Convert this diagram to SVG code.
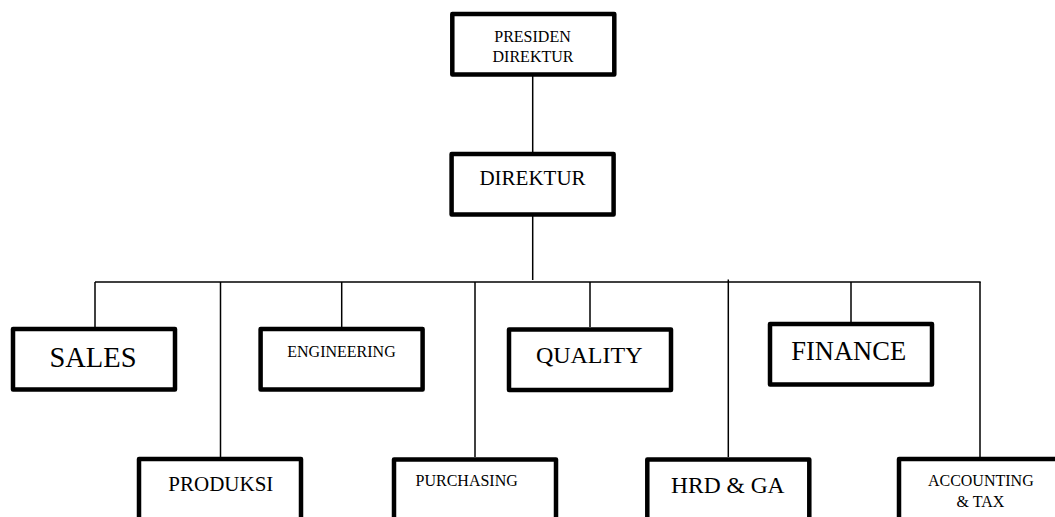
<svg xmlns="http://www.w3.org/2000/svg" width="1055" height="517" viewBox="0 0 1055 517">
<style>
.box{fill:#fff;stroke:#000;stroke-width:4.5;stroke-linejoin:round}
.con{stroke:#000;stroke-width:1.5;fill:none}
text{font-family:"Liberation Serif","Times New Roman",serif;fill:#000;text-anchor:middle}
</style>
<rect width="1055" height="517" fill="#fff"/>
<g id="connectors">
<line class="con" x1="532.7" y1="76" x2="532.7" y2="152"/>
<line class="con" x1="532.7" y1="216" x2="532.7" y2="280"/>
<line class="con" x1="95" y1="282" x2="980.7" y2="282"/>
<line class="con" x1="95" y1="282" x2="95" y2="327"/>
<line class="con" x1="220.5" y1="282" x2="220.5" y2="457"/>
<line class="con" x1="341.7" y1="282" x2="341.7" y2="327"/>
<line class="con" x1="475" y1="282" x2="475" y2="457"/>
<line class="con" x1="590" y1="282" x2="590" y2="327"/>
<line class="con" x1="728.3" y1="279.5" x2="728.3" y2="457"/>
<line class="con" x1="851" y1="282" x2="851" y2="322"/>
<line class="con" x1="980" y1="282" x2="980" y2="457"/>
</g>
<g id="presiden-direktur">
<rect class="box" x="452.3" y="14" width="162" height="60.5"/>
<text x="532.5" y="41.7" font-size="16">PRESIDEN</text>
<text x="533" y="61.7" font-size="16">DIREKTUR</text>
</g>
<g id="direktur">
<rect class="box" x="451.6" y="154" width="162" height="60.5"/>
<text x="532.5" y="185" font-size="21">DIREKTUR</text>
</g>
<g id="sales">
<rect class="box" x="13" y="329" width="162" height="60.5"/>
<text x="93" y="367.3" font-size="28.5">SALES</text>
</g>
<g id="engineering">
<rect class="box" x="260.6" y="329" width="162" height="60.5"/>
<text x="341.5" y="356.5" font-size="16">ENGINEERING</text>
</g>
<g id="quality">
<rect class="box" x="509" y="329.5" width="162" height="60.5"/>
<text x="589.2" y="363.3" font-size="24">QUALITY</text>
</g>
<g id="finance">
<rect class="box" x="770" y="324" width="162" height="60.5"/>
<text x="848.7" y="360" font-size="26.5">FINANCE</text>
</g>
<g id="produksi">
<rect class="box" x="139" y="459" width="162" height="60.5"/>
<text x="220.8" y="490.7" font-size="21">PRODUKSI</text>
</g>
<g id="purchasing">
<rect class="box" x="394" y="459.5" width="162" height="60.5"/>
<text x="466.7" y="485.8" font-size="16">PURCHASING</text>
</g>
<g id="hrd-ga">
<rect class="box" x="647.3" y="459.5" width="162" height="60.5"/>
<text x="727.8" y="492.7" font-size="23.5">HRD &amp; GA</text>
</g>
<g id="accounting-tax">
<rect class="box" x="899" y="459" width="162" height="60.5"/>
<text x="980.8" y="486" font-size="16">ACCOUNTING</text>
<text x="980.5" y="507" font-size="16">&amp; TAX</text>
</g>
</svg>
